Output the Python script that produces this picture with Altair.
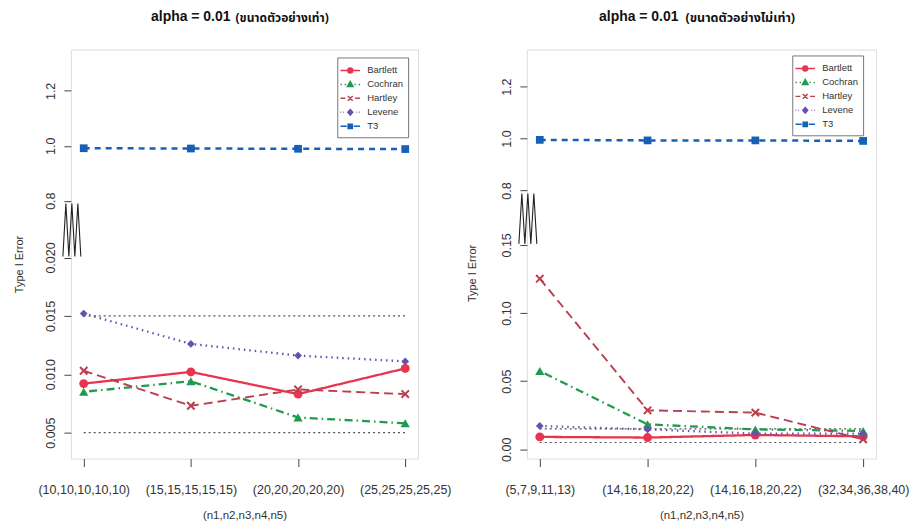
import altair as alt
import pandas as pd

# ---------------- data ----------------
SERIES = ["Bartlett", "Cochran", "Hartley", "Levene", "T3"]
COLORS = ["#e8344e", "#1f9a4e", "#b8404f", "#6a4fb0", "#1660b8"]

LEFT_X_LABELS = ["(10,10,10,10,10)", "(15,15,15,15,15)", "(20,20,20,20,20)", "(25,25,25,25,25)"]
RIGHT_X_LABELS = ["(5,7,9,11,13)", "(14,16,18,20,22)", "(14,16,18,20,22)", "(32,34,36,38,40)"]

LEFT_BARTLETT = [0.0092, 0.0102, 0.0083, 0.0105]
LEFT_COCHRAN = [0.0085, 0.0094, 0.0063, 0.0058]
LEFT_HARTLEY = [0.0103, 0.0073, 0.0087, 0.0083]
LEFT_LEVENE = [0.0152, 0.0126, 0.0116, 0.0111]
LEFT_T3 = [0.991, 0.990, 0.989, 0.988]

RIGHT_BARTLETT = [0.0091, 0.0086, 0.0105, 0.0095]
RIGHT_COCHRAN = [0.0574, 0.0183, 0.0146, 0.0135]
RIGHT_HARTLEY = [0.1252, 0.0286, 0.0269, 0.0073]
RIGHT_LEVENE = [0.0171, 0.0146, 0.0115, 0.0115]
RIGHT_T3 = [0.995, 0.993, 0.993, 0.991]

REF_LEVELS = [0.005, 0.015]
LEFT_LOW_TICKS = [0.005, 0.010, 0.015, 0.020]
RIGHT_LOW_TICKS = [0.00, 0.05, 0.10, 0.15]
HIGH_TICKS = [0.8, 1.0, 1.2]

TITLE_MAIN = "alpha = 0.01"
LEFT_TITLE_SUB = "(ขนาดตัวอย่างเท่า)"
RIGHT_TITLE_SUB = "(ขนาดตัวอย่างไม่เท่า)"
Y_TITLE = "Type I Error"
X_TITLE = "(n1,n2,n3,n4,n5)"

# ---------------- styles ----------------
POINT_SHAPES = ["circle", "triangle-up", "M-1,-1L1,1M-1,1L1,-1", "diamond", "square"]
POINT_FILLED = [True, True, False, True, True]
POINT_SIZES = [80, 85, 55, 60, 60]
DASHES = [[1, 0], [1.5, 4, 8, 4], [9, 5], [1.5, 4], [6, 5]]
LINE_WIDTHS = [2.3, 2.3, 1.9, 2.3, 2.5]
LEGEND_SHAPES = [
    "M-1.4,0L1.4,0M-0.35,0A0.35,0.35 0 1,0 0.35,0A0.35,0.35 0 1,0 -0.35,0Z",
    "M-1.4,0L-1.2,0M-0.8,0L-0.6,0M0.6,0L0.8,0M1.2,0L1.4,0M-0.4,0.3L0.4,0.3L0,-0.4Z",
    "M-1.4,0L-0.7,0M0.7,0L1.4,0M-0.35,-0.35L0.35,0.35M-0.35,0.35L0.35,-0.35",
    "M-1.4,0L-1.3,0M-1.0,0L-0.9,0M0.9,0L1.0,0M1.3,0L1.4,0M0,-0.4L0.35,0L0,0.4L-0.35,0Z",
    "M-1.4,0L-0.5,0M0.5,0L1.4,0M-0.3,-0.3L0.3,-0.3L0.3,0.3L-0.3,0.3Z",
]
FONT = "Liberation Sans"
THAI_FONT = "Noto Sans Thai, Loma, Tahoma, DejaVu Sans, sans-serif"
X_DOMAIN = [-0.12, 3.12]


def make_panel(x_labels, values, low_ticks, low_fmt, geom, width, height,
               sub_title, title_pos, legend_pos, y_title_y, y_title_pad):
    k_low, low_top, gap, k_up, dom = geom
    base = low_top * k_low + gap
    split = low_top * k_low + gap / 2
    expr_of = lambda f: f"datum.{f} < 0.5 ? datum.{f} * {k_low} : {base} + (datum.{f} - 0.8) * {k_up}"
    tick_vals = [t * k_low for t in low_ticks] + [base + (t - 0.8) * k_up for t in HIGH_TICKS]
    label_expr = (f"datum.value < {split} ? format(datum.value / {k_low}, '{low_fmt}') : "
                  f"format(0.8 + (datum.value - {base}) / {k_up}, '.1f')")
    x_label_expr = "[" + ",".join(f"'{s}'" for s in x_labels) + "][round(datum.value)]"

    x_enc = alt.X("idx:Q", scale=alt.Scale(domain=X_DOMAIN, nice=False, zero=False),
                  axis=alt.Axis(values=list(range(len(x_labels))), labelExpr=x_label_expr,
                                title=X_TITLE, grid=False, domain=False, tickSize=8,
                                tickColor="#444", labelFontSize=12.5, labelFont=FONT,
                                labelColor="#333", labelPadding=17, titleFont=FONT,
                                titleFontSize=11.5, titleFontWeight="normal",
                                titleColor="#333", titlePadding=14))
    y_enc = alt.Y("p:Q", scale=alt.Scale(domain=dom, nice=False, zero=False),
                  axis=alt.Axis(values=tick_vals, labelExpr=label_expr, title=Y_TITLE,
                                grid=False, domain=False, tickSize=7, tickColor="#444",
                                labelAngle=270, labelAlign="center", labelBaseline="bottom",
                                labelFontSize=12.5, labelFont=FONT, labelColor="#333",
                                labelPadding=6, titleFont=FONT, titleFontSize=11,
                                titleFontWeight="normal", titleColor="#333",
                                titlePadding=y_title_pad, titleY=y_title_y))

    rows = []
    for s, vals in zip(SERIES, values):
        for i, v in enumerate(vals):
            rows.append({"series": s, "idx": i, "v": v})
    df = pd.DataFrame(rows)

    layers = []
    ref_df = pd.DataFrame({"v": REF_LEVELS, "idx": [0] * len(REF_LEVELS),
                           "idx2": [len(x_labels) - 1] * len(REF_LEVELS)})
    layers.append(
        alt.Chart(ref_df).mark_rule(color="#555", strokeDash=[2, 3], strokeWidth=1.2)
        .transform_calculate(p=expr_of("v"))
        .encode(x=x_enc, x2="idx2:Q", y=y_enc)
    )
    for s, c, d, w in zip(SERIES, COLORS, DASHES, LINE_WIDTHS):
        layers.append(
            alt.Chart(df).transform_filter(alt.datum.series == s)
            .transform_calculate(p=expr_of("v"))
            .mark_line(color=c, strokeDash=d, strokeWidth=w)
            .encode(x=x_enc, y=y_enc)
        )
    for s, c, sh, fl, sz in zip(SERIES, COLORS, POINT_SHAPES, POINT_FILLED, POINT_SIZES):
        layers.append(
            alt.Chart(df).transform_filter(alt.datum.series == s)
            .transform_calculate(p=expr_of("v"))
            .mark_point(color=c, shape=sh, filled=fl, size=sz, opacity=1, strokeWidth=2)
            .encode(x=x_enc, y=y_enc)
        )

    # axis-break zigzag glyph (decoration on the y axis)
    step = width / (X_DOMAIN[1] - X_DOMAIN[0])
    offs = [-8, -5, -2, 1, 4, 7, 10]
    lo = low_top * k_low + 1
    hi = base - 3
    zz = pd.DataFrame({
        "idx": [X_DOMAIN[0] + o / step for o in offs],
        "p": [lo if i % 2 == 0 else hi for i in range(len(offs))],
        "o": list(range(len(offs))),
    })
    layers.append(
        alt.Chart(zz).mark_line(color="#222", strokeWidth=1.1)
        .encode(x=x_enc, y=y_enc, order="o:Q")
    )

    # titles
    ax, sx, ty, sub_size = title_pos
    layers.append(
        alt.Chart(pd.DataFrame({"t": [TITLE_MAIN]})).mark_text(
            font=FONT, fontSize=14, fontWeight="bold", align="right", baseline="middle",
            color="#111").encode(text="t:N", x=alt.value(ax), y=alt.value(ty))
    )
    layers.append(
        alt.Chart(pd.DataFrame({"t": [sub_title]})).mark_text(
            font=THAI_FONT, fontSize=sub_size, fontWeight="bold", align="left",
            baseline="middle", color="#111"
        ).encode(text="t:N", x=alt.value(sx), y=alt.value(ty + 1))
    )

    # legend
    lx, ly = legend_pos
    leg = alt.Legend(orient="none", legendX=lx, legendY=ly, title=None, fillColor="white",
                     strokeColor="#777", padding=5, symbolSize=196, symbolStrokeWidth=1.5,
                     labelFontSize=9.5, labelFont=FONT, labelColor="#333", rowPadding=0,
                     labelOffset=9, symbolOpacity=1)
    leg_df = pd.DataFrame({"name": SERIES})
    layers.append(
        alt.Chart(leg_df).transform_filter("false")
        .mark_point(filled=True, opacity=1)
        .encode(
            fill=alt.Fill("name:N", scale=alt.Scale(domain=SERIES, range=COLORS), legend=leg),
            stroke=alt.Stroke("name:N", scale=alt.Scale(domain=SERIES, range=COLORS), legend=leg),
            shape=alt.Shape("name:N", scale=alt.Scale(domain=SERIES, range=LEGEND_SHAPES), legend=leg),
        )
    )
    return alt.layer(*layers).properties(width=width, height=height)


left = make_panel(
    LEFT_X_LABELS,
    [LEFT_BARTLETT, LEFT_COCHRAN, LEFT_HARTLEY, LEFT_LEVENE, LEFT_T3],
    LEFT_LOW_TICKS, ".3f",
    (11700, 0.020, 57, 275, [32.5, 442.5]),
    348, 410, LEFT_TITLE_SUB, (160, 165, -33, 12), (267, 8), 215, 20,
)
right = make_panel(
    RIGHT_X_LABELS,
    [RIGHT_BARTLETT, RIGHT_COCHRAN, RIGHT_HARTLEY, RIGHT_LEVENE, RIGHT_T3],
    RIGHT_LOW_TICKS, ".2f",
    (1366, 0.15, 54.5, 260, [-9.3, 400.7]),
    350, 410, RIGHT_TITLE_SUB, (152, 159, -33, 12.5), (266, 6), 224, 23,
)

chart = (
    alt.hconcat(left, right, spacing=109, bounds="flush")
    .resolve_scale(x="independent", y="independent", fill="independent",
                   stroke="independent", shape="independent")
    .properties(padding={"left": 5, "top": 0, "right": 0, "bottom": 0})
    .configure_view(stroke="#666", strokeWidth=1)
    .configure(background="white")
)

chart.save("out.html", embed_options={"renderer": "svg", "actions": False})
